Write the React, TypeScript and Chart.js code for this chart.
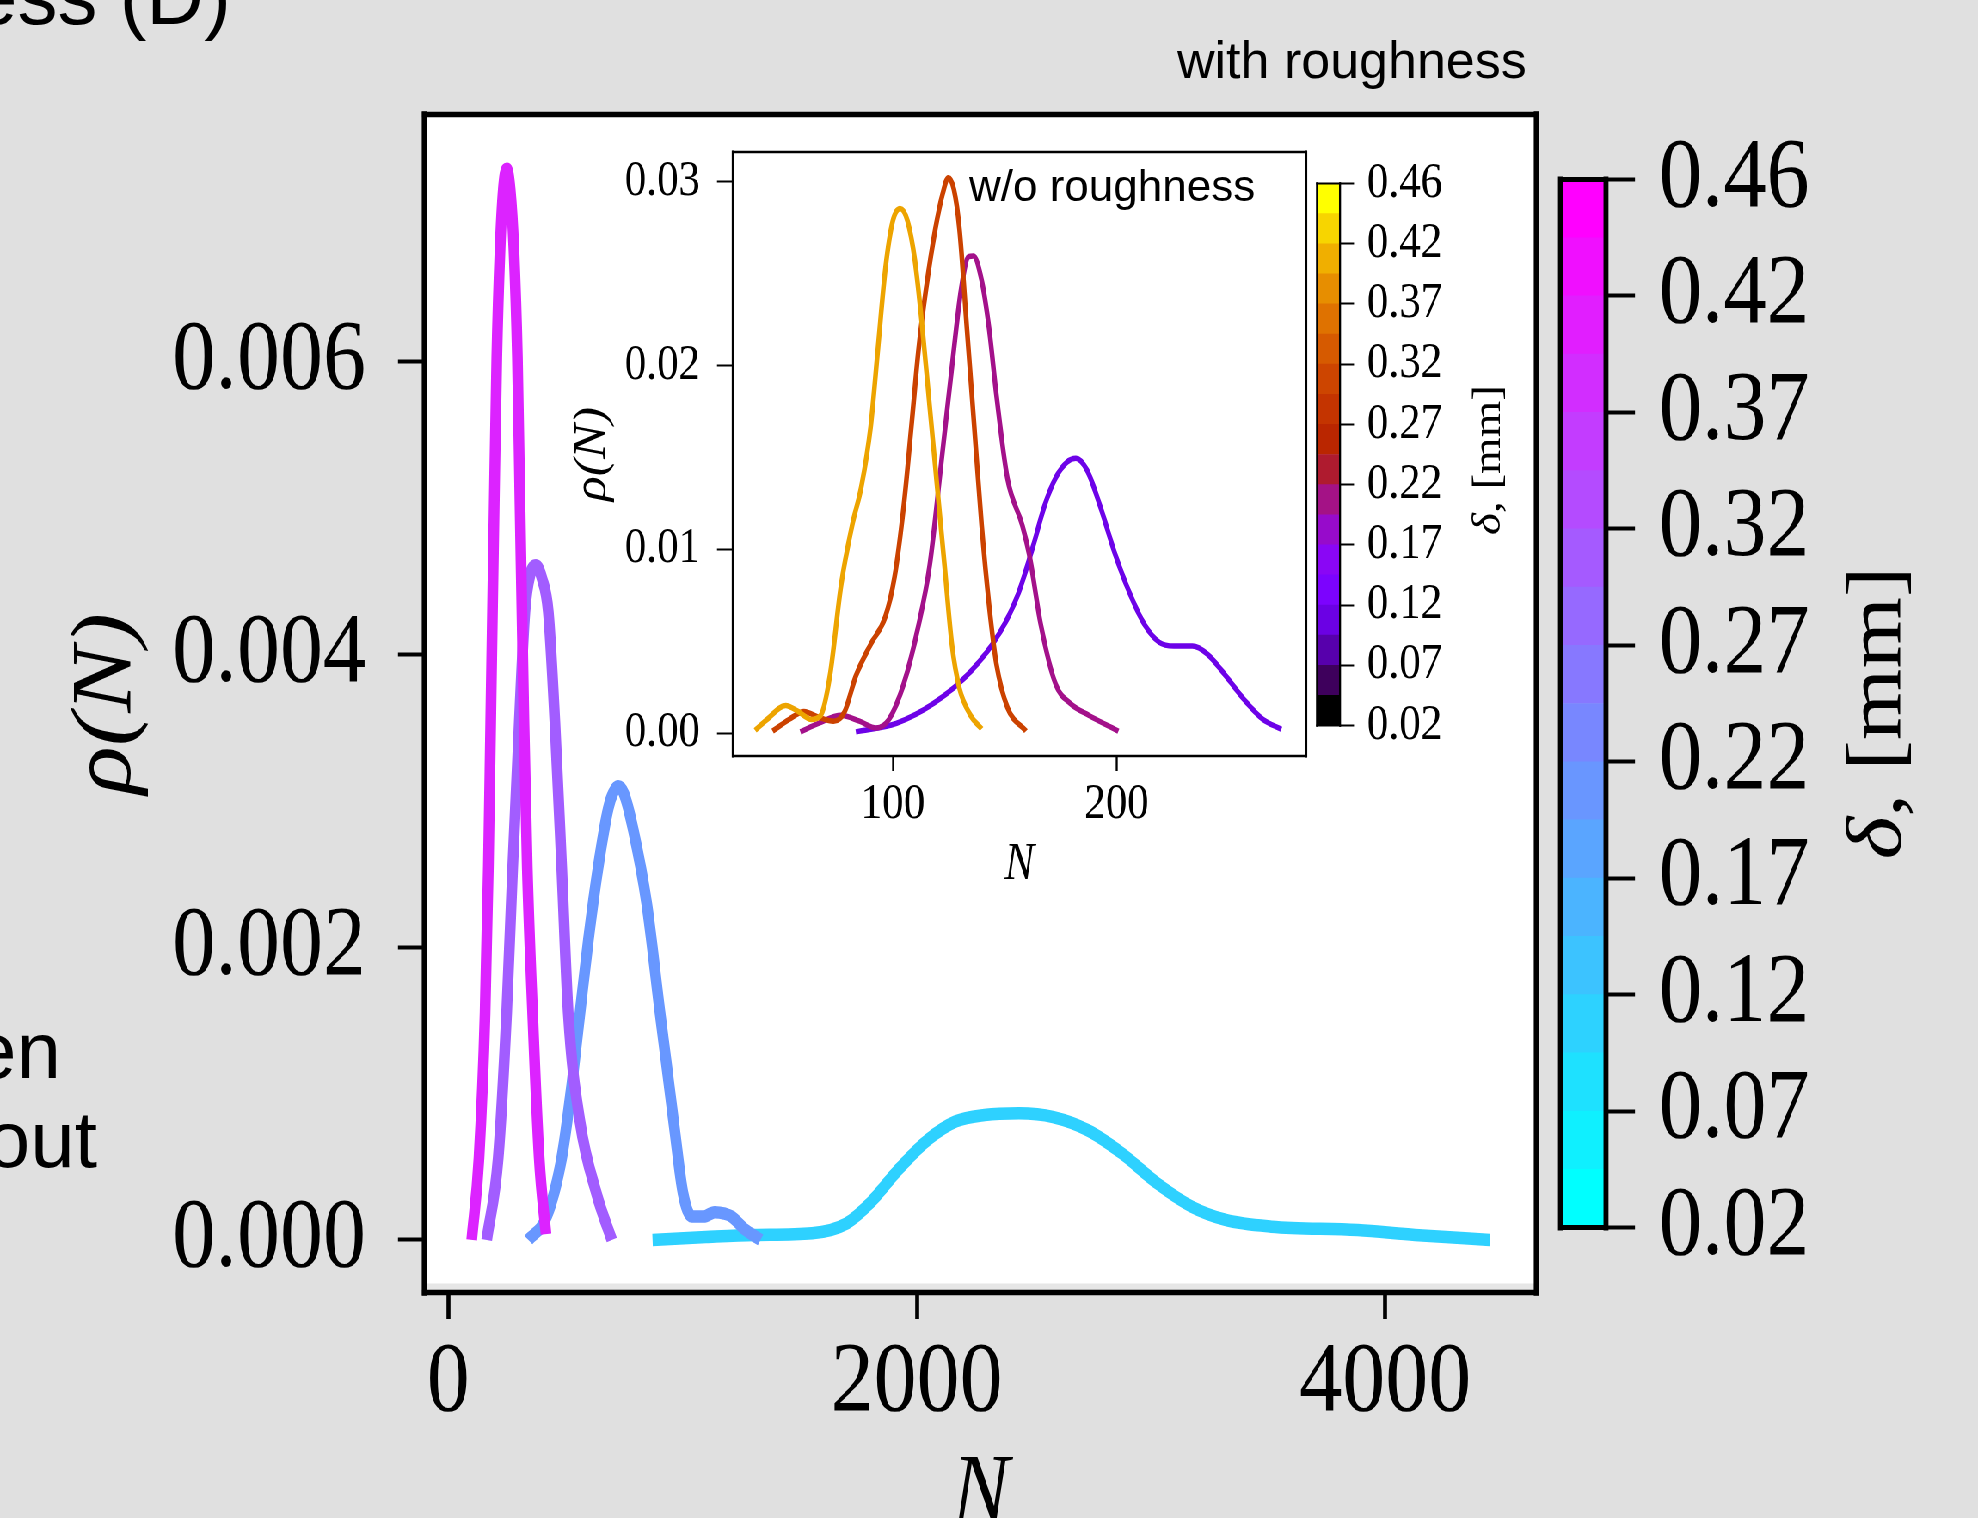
import React, { useEffect, useRef } from 'react';
import { Chart, registerables } from 'chart.js';

Chart.register(...registerables);

// ---------------- data : main panel (with roughness) ----------------
const MAIN_D01_N = [872, 1100, 1308, 1553, 1701, 1799, 1921, 2044, 2166, 2289, 2436, 2583, 2730, 2877, 3024, 3171, 3318, 3514, 3882, 4127, 4446];
const MAIN_D01_RHO = [0, 0.00002, 0.000034, 0.000046, 0.000114, 0.00025, 0.00048, 0.00068, 0.00081, 0.000854, 0.000866, 0.00084, 0.00075, 0.00059, 0.00039, 0.00023, 0.000137, 0.000091, 0.000068, 0.000034, 0];

const MAIN_D02_N = [342, 420, 484, 527, 562, 598, 640, 683, 705, 726, 750, 790, 847, 904, 930, 965, 1002, 1040, 1090, 1137, 1180, 1210, 1260, 1333];
const MAIN_D02_RHO = [0, 0.00016, 0.00056, 0.00106, 0.00155, 0.00205, 0.00255, 0.00295, 0.00306, 0.0031, 0.00305, 0.0028, 0.0023, 0.00155, 0.00122, 0.00077, 0.00032, 0.00016, 0.00016, 0.00019, 0.00018, 0.00016, 0.00008, 0];

const MAIN_D03_N = [164, 213, 249, 275, 303, 327, 350, 374, 400, 427, 455, 484, 512, 562, 634, 698];
const MAIN_D03_RHO = [0, 0.00056, 0.00155, 0.00255, 0.00354, 0.00429, 0.00455, 0.00461, 0.00452, 0.00429, 0.00354, 0.00255, 0.00155, 0.00081, 0.00031, 0];

const MAIN_D04_N = [100, 131, 157, 171, 181, 196, 207, 221, 235, 249, 264, 280, 295, 306, 323, 337, 360, 388, 417];
const MAIN_D04_RHO = [0, 0.00056, 0.00155, 0.00255, 0.00354, 0.00503, 0.00603, 0.00677, 0.00718, 0.00732, 0.00718, 0.00677, 0.00603, 0.00503, 0.00354, 0.00255, 0.00155, 0.00056, 0.00004];

const MAIN_X_TICKS = [0, 2000, 4000];
const MAIN_Y_TICKS = [0, 0.002, 0.004, 0.006];

// ---------------- data : inset (w/o roughness) ----------------
const INSET_D01_N = [83.5, 101.6, 118.2, 134.7, 147.9, 156.2, 162.8, 167.8, 172.7, 177.7, 181.8, 186.8, 192.6, 199.2, 205.8, 212.4, 219.0, 225.6, 233.9, 240.5, 248.8, 257.0, 265.3, 273.6];
const INSET_D01_RHO = [0.00006, 0.00053, 0.00161, 0.00333, 0.00548, 0.00763, 0.01022, 0.01237, 0.01387, 0.01473, 0.01495, 0.0143, 0.01237, 0.00979, 0.00763, 0.00592, 0.00494, 0.00473, 0.00473, 0.0043, 0.00311, 0.00182, 0.00075, 0.0002];

const INSET_D02_N = [58.7, 66.9, 76.9, 85.1, 92.6, 98.3, 104.9, 111.6, 116.5, 121.5, 126.4, 130.6, 133.9, 136.0, 139.7, 143.0, 146.3, 151.2, 157.9, 161.2, 166.1, 172.7, 179.3, 187.6, 200.8];
const INSET_D02_RHO = [0.00006, 0.00053, 0.00096, 0.00064, 0.00027, 0.00074, 0.00268, 0.00592, 0.00914, 0.01452, 0.0199, 0.02421, 0.02593, 0.02597, 0.02464, 0.02205, 0.0184, 0.01387, 0.01129, 0.00957, 0.00592, 0.00268, 0.00161, 0.00096, 0.0001];

const INSET_D03_N = [46.3, 53.7, 60.3, 66.9, 73.5, 78.5, 83.5, 90.1, 96.7, 100.8, 104.9, 108.3, 111.6, 114.9, 119.0, 122.3, 124.8, 127.3, 129.8, 133.1, 136.4, 139.7, 143.0, 146.3, 151.2, 159.5];
const INSET_D03_RHO = [0.0001, 0.00074, 0.00117, 0.00085, 0.00064, 0.00117, 0.00311, 0.00483, 0.00634, 0.0085, 0.01237, 0.01667, 0.02098, 0.02421, 0.02743, 0.02937, 0.03023, 0.02959, 0.02743, 0.02205, 0.01667, 0.01129, 0.00699, 0.00376, 0.0014, 0.0001];

const INSET_D04_N = [38.5, 43.8, 52.1, 57.8, 63.6, 67.8, 71.9, 76.9, 81.8, 86.0, 90.1, 93.4, 96.7, 100.0, 103.3, 106.6, 109.9, 113.2, 116.5, 119.8, 123.1, 126.4, 129.7, 134.7, 139.7];
const INSET_D04_RHO = [0.00014, 0.00074, 0.0015, 0.00117, 0.00074, 0.00096, 0.00311, 0.00806, 0.01129, 0.01344, 0.01667, 0.02098, 0.02528, 0.02787, 0.02855, 0.02787, 0.02571, 0.02205, 0.01775, 0.01344, 0.00914, 0.00483, 0.00247, 0.00097, 0.00022];

const INSET_X_TICKS = [100, 200];
const INSET_Y_TICKS = [0, 0.01, 0.02, 0.03];

// colour bar tick labels (bottom to top)
const CBAR_LABELS = ['0.02', '0.07', '0.12', '0.17', '0.22', '0.27', '0.32', '0.37', '0.42', '0.46'];
const CBAR_BANDS = 18;

// line colours (cool map for main, gnuplot map for inset), delta = 0.1, 0.2, 0.3, 0.4
const MAIN_COLORS = ['#2ed1ff', '#6897ff', '#a25dff', '#dc23ff'];
const INSET_COLORS = ['#6d02e8', '#a3118a', '#cb4200', '#eda400'];

// ---------------- layout ----------------
const SX = 0.86; // the figure is horizontally compressed
const PAGE_W = 1978;
const PAGE_H = 1518;
const CW = Math.round(PAGE_W / SX);
const cx = (x: number) => x / SX;
const SERIF = "'Liberation Serif', 'Times New Roman', serif";
const SANS = "'Liberation Sans', Arial, sans-serif";

function coolColor(t: number) {
  return `rgb(${Math.round(255 * t)},${Math.round(255 * (1 - t))},255)`;
}
function gnuplotColor(t: number) {
  const r = Math.sqrt(t);
  const g = t * t * t;
  const b = Math.min(1, Math.max(0, Math.sin(2 * Math.PI * t)));
  return `rgb(${Math.round(255 * r)},${Math.round(255 * g)},${Math.round(255 * b)})`;
}

function framePlugin(area: { lw: number; strip?: boolean }) {
  return {
    id: 'frameBox',
    beforeDraw(chart: any) {
      const { ctx, chartArea: a } = chart;
      ctx.save();
      ctx.fillStyle = '#ffffff';
      ctx.fillRect(a.left, a.top, a.right - a.left, a.bottom - a.top);
      if (area.strip) {
        ctx.fillStyle = '#e6e6e6';
        ctx.fillRect(a.left, a.bottom - 9, a.right - a.left, 7);
      }
      ctx.restore();
    },
    afterDraw(chart: any) {
      const { ctx, chartArea: a } = chart;
      ctx.save();
      ctx.strokeStyle = '#000';
      ctx.lineCap = 'square';
      ctx.lineWidth = area.lw;
      ctx.beginPath();
      ctx.moveTo(a.left, a.top);
      ctx.lineTo(a.right, a.top);
      ctx.moveTo(a.left, a.bottom);
      ctx.lineTo(a.right, a.bottom);
      ctx.stroke();
      ctx.lineWidth = area.lw / SX;
      ctx.beginPath();
      ctx.moveTo(a.left, a.top);
      ctx.lineTo(a.left, a.bottom);
      ctx.moveTo(a.right, a.top);
      ctx.lineTo(a.right, a.bottom);
      ctx.stroke();
      ctx.restore();
    },
  };
}

function series(ns: number[], rhos: number[], color: string, width: number) {
  return {
    data: ns.map((n, i) => ({ x: n, y: rhos[i] })),
    borderColor: color,
    backgroundColor: color,
    borderWidth: width,
    pointRadius: 0,
    fill: false,
    cubicInterpolationMode: 'monotone',
  };
}

interface PanelSpec {
  left: number; right: number; top: number; bottom: number; // chart area, page px
  axisLeft: number; axisBottom: number;
  xMin: number; xMax: number; yMin: number; yMax: number;
  xTicks: number[]; yTicks: number[]; yDigits: number;
  font: number; titleFont: number;
  yTickLen: number; yPad: number; xTickLen: number; xPad: number; tickW: number;
  yTitleCenter: number; xTitleCenter: number;
  frame: number; strip?: boolean;
}

function panelConfig(p: PanelSpec, datasets: any[]) {
  const tickFont = { family: SERIF, size: p.font, lineHeight: 1 };
  const titleFont = { family: SERIF, size: p.titleFont, style: 'italic', lineHeight: 1 };
  const yAxisW = cx(p.left) - cx(p.axisLeft);
  const xAxisH = p.axisBottom - p.bottom;
  return {
    type: 'line',
    data: { datasets },
    options: {
      animation: false,
      responsive: false,
      events: [],
      layout: {
        padding: { left: cx(p.axisLeft), top: p.top, right: CW - cx(p.right), bottom: PAGE_H - p.axisBottom },
      },
      plugins: { legend: { display: false }, tooltip: { enabled: false } },
      scales: {
        x: {
          type: 'linear',
          min: p.xMin,
          max: p.xMax,
          afterBuildTicks: (s: any) => { s.ticks = p.xTicks.map((v) => ({ value: v })); },
          afterFit: (s: any) => { s.height = xAxisH; s.paddingLeft = 0; s.paddingRight = 0; },
          ticks: { callback: (v: any) => String(v), font: tickFont, color: '#000', padding: p.xPad, maxRotation: 0, minRotation: 0, autoSkip: false },
          grid: { display: true, drawOnChartArea: false, drawTicks: true, tickLength: p.xTickLen, tickColor: '#000', tickWidth: p.tickW / SX },
          border: { display: false },
          title: {
            display: true, text: 'N', color: '#000', font: titleFont,
            padding: { top: 0, bottom: p.axisBottom - p.xTitleCenter - p.titleFont / 2 },
          },
        },
        y: {
          type: 'linear',
          min: p.yMin,
          max: p.yMax,
          afterBuildTicks: (s: any) => { s.ticks = p.yTicks.map((v) => ({ value: v })); },
          afterFit: (s: any) => { s.width = yAxisW; s.paddingTop = 0; s.paddingBottom = 0; },
          ticks: { callback: (v: any) => Number(v).toFixed(p.yDigits), font: tickFont, color: '#000', padding: p.yPad / SX, autoSkip: false },
          grid: { display: true, drawOnChartArea: false, drawTicks: true, tickLength: p.yTickLen / SX, tickColor: '#000', tickWidth: p.tickW },
          border: { display: false },
          title: {
            display: true, text: 'ρ(N)', color: '#000', font: titleFont,
            padding: { top: cx(p.yTitleCenter) - cx(p.axisLeft) - p.titleFont / 2, bottom: 0 },
          },
        },
      },
    },
    plugins: [framePlugin({ lw: p.frame, strip: p.strip })],
  };
}

interface CbarSpec {
  left: number; right: number; top: number; bottom: number;
  colors: string[]; font: number; tickLen: number; pad: number; tickW: number; outline: number;
  titleX: number; titleY: number; titleFont: number;
}

const CB_AXIS_W = 300;

function colorbarPlugin(cb: CbarSpec) {
  return {
    id: 'cbarDecor',
    afterDraw(chart: any) {
      const { ctx, chartArea: a } = chart;
      ctx.save();
      ctx.strokeStyle = '#000';
      ctx.lineCap = 'square';
      ctx.lineWidth = cb.outline;
      ctx.beginPath();
      ctx.moveTo(a.left, a.top); ctx.lineTo(a.right, a.top);
      ctx.moveTo(a.left, a.bottom); ctx.lineTo(a.right, a.bottom);
      ctx.stroke();
      ctx.lineWidth = cb.outline / SX;
      ctx.beginPath();
      ctx.moveTo(a.left, a.top); ctx.lineTo(a.left, a.bottom);
      ctx.moveTo(a.right, a.top); ctx.lineTo(a.right, a.bottom);
      ctx.stroke();
      // rotated label  "δ, [mm]"
      ctx.translate(cx(cb.titleX), cb.titleY);
      ctx.rotate(-Math.PI / 2);
      ctx.fillStyle = '#000';
      ctx.textBaseline = 'middle';
      ctx.textAlign = 'left';
      const f1 = `italic ${cb.titleFont}px ${SERIF}`;
      const f2 = `${cb.titleFont}px ${SERIF}`;
      ctx.font = f1;
      const w1 = ctx.measureText('δ').width;
      ctx.font = f2;
      const w2 = ctx.measureText(', [mm]').width;
      const x0 = -(w1 + w2) / 2;
      ctx.font = f1;
      ctx.fillText('δ', x0, 0);
      ctx.font = f2;
      ctx.fillText(', [mm]', x0 + w1, 0);
      ctx.restore();
    },
  };
}

function colorbarConfig(cb: CbarSpec) {
  const step = (CBAR_LABELS.length - 1) / CBAR_BANDS;
  return {
    type: 'bar',
    data: {
      labels: [''],
      datasets: cb.colors.map((c, i) => ({
        data: [[i * step, (i + 1) * step]],
        backgroundColor: c,
        borderWidth: 0,
        barPercentage: 1,
        categoryPercentage: 1,
        grouped: false,
      })),
    },
    options: {
      animation: false,
      responsive: false,
      events: [],
      layout: { padding: { left: cx(cb.left), right: CW - cx(cb.right) - CB_AXIS_W, top: cb.top, bottom: PAGE_H - cb.bottom } },
      plugins: { legend: { display: false }, tooltip: { enabled: false } },
      scales: {
        x: { display: false },
        y: {
          position: 'right',
          min: 0,
          max: CBAR_LABELS.length - 1,
          afterBuildTicks: (s: any) => { s.ticks = CBAR_LABELS.map((_, i) => ({ value: i })); },
          afterFit: (s: any) => { s.width = CB_AXIS_W; s.paddingTop = 0; s.paddingBottom = 0; },
          ticks: { callback: (_v: any, i: number) => CBAR_LABELS[i], font: { family: SERIF, size: cb.font, lineHeight: 1 }, color: '#000', padding: cb.pad / SX, autoSkip: false },
          grid: { display: true, drawOnChartArea: false, drawTicks: true, tickLength: cb.tickLen / SX, tickColor: '#000', tickWidth: cb.tickW },
          border: { display: false },
        },
      },
    },
    plugins: [colorbarPlugin(cb)],
  };
}

const MAIN_PANEL: PanelSpec = {
  left: 424.5, right: 1536.5, top: 114.5, bottom: 1292.5,
  axisLeft: 0, axisBottom: PAGE_H,
  xMin: -101.6, xMax: 4645.5, yMin: -0.000359, yMax: 0.0076905,
  xTicks: MAIN_X_TICKS, yTicks: MAIN_Y_TICKS, yDigits: 3,
  font: 100, titleFont: 100,
  yTickLen: 26.5, yPad: 32, xTickLen: 26.5, xPad: 15, tickW: 4,
  yTitleCenter: 107, xTitleCenter: 1496,
  frame: 5.5, strip: true,
};

const INSET_PANEL: PanelSpec = {
  left: 733, right: 1306, top: 152, bottom: 756,
  axisLeft: 540, axisBottom: 900,
  xMin: 28.6, xMax: 284.63, yMin: -0.001252, yMax: 0.031627,
  xTicks: INSET_X_TICKS, yTicks: INSET_Y_TICKS, yDigits: 2,
  font: 50, titleFont: 52,
  yTickLen: 16, yPad: 17, xTickLen: 15, xPad: 9, tickW: 2,
  yTitleCenter: 593, xTitleCenter: 865,
  frame: 2.5,
};

const CB_MAIN: CbarSpec = {
  left: 1560.5, right: 1606, top: 179.5, bottom: 1227.5,
  colors: Array.from({ length: CBAR_BANDS }, (_, i) => coolColor(i / (CBAR_BANDS - 1))),
  font: 100, tickLen: 29, pad: 24, tickW: 4, outline: 5,
  titleX: 1880, titleY: 713, titleFont: 92,
};

const CB_INSET: CbarSpec = {
  left: 1317, right: 1340, top: 183.5, bottom: 725.5,
  colors: Array.from({ length: CBAR_BANDS }, (_, i) => gnuplotColor(i / (CBAR_BANDS - 1))),
  font: 50, tickLen: 14, pad: 13, tickW: 2, outline: 2,
  titleX: 1489, titleY: 460, titleFont: 47,
};

function Txt(props: { x: number; align?: 'left' | 'right'; baseline: number; size: number; children: any }) {
  const { x, align, baseline, size, children } = props;
  const st: any = {
    position: 'absolute',
    top: baseline - 0.8465 * size,
    fontFamily: SANS,
    fontSize: size,
    lineHeight: 1,
    whiteSpace: 'nowrap',
    color: '#000',
  };
  if (align === 'right') st.right = PAGE_W - x; else st.left = x;
  return <div style={st}>{children}</div>;
}

export default function App() {
  const mainRef = useRef<HTMLCanvasElement>(null);
  const cbMainRef = useRef<HTMLCanvasElement>(null);
  const insetRef = useRef<HTMLCanvasElement>(null);
  const cbInsetRef = useRef<HTMLCanvasElement>(null);

  useEffect(() => {
    const mainSets = [
      series(MAIN_D04_N, MAIN_D04_RHO, MAIN_COLORS[3], 12.5),
      series(MAIN_D03_N, MAIN_D03_RHO, MAIN_COLORS[2], 12.5),
      series(MAIN_D02_N, MAIN_D02_RHO, MAIN_COLORS[1], 12.5),
      series(MAIN_D01_N, MAIN_D01_RHO, MAIN_COLORS[0], 12.5),
    ];
    const insetSets = [
      series(INSET_D04_N, INSET_D04_RHO, INSET_COLORS[3], 5.5),
      series(INSET_D03_N, INSET_D03_RHO, INSET_COLORS[2], 5.5),
      series(INSET_D02_N, INSET_D02_RHO, INSET_COLORS[1], 5.5),
      series(INSET_D01_N, INSET_D01_RHO, INSET_COLORS[0], 5.5),
    ];
    const charts = [
      new Chart(mainRef.current as any, panelConfig(MAIN_PANEL, mainSets) as any),
      new Chart(cbMainRef.current as any, colorbarConfig(CB_MAIN) as any),
      new Chart(insetRef.current as any, panelConfig(INSET_PANEL, insetSets) as any),
      new Chart(cbInsetRef.current as any, colorbarConfig(CB_INSET) as any),
    ];
    return () => charts.forEach((c) => c.destroy());
  }, []);

  const cs: any = { position: 'absolute', left: 0, top: 0 };
  return (
    <div style={{ position: 'fixed', left: 0, top: 0, width: PAGE_W, height: PAGE_H, background: '#e0e0e0', overflow: 'hidden' }}>
      <Txt x={-27} baseline={25} size={80}>ess (D)</Txt>
      <Txt x={61} align="right" baseline={1079} size={80}>en</Txt>
      <Txt x={97} align="right" baseline={1168} size={80}>out</Txt>
      <div style={{ position: 'absolute', left: 0, top: 0, width: CW, height: PAGE_H, transform: `scaleX(${SX})`, transformOrigin: '0 0' }}>
        <canvas ref={mainRef} width={CW} height={PAGE_H} style={cs} />
        <canvas ref={cbMainRef} width={CW} height={PAGE_H} style={cs} />
        <canvas ref={insetRef} width={CW} height={PAGE_H} style={cs} />
        <canvas ref={cbInsetRef} width={CW} height={PAGE_H} style={cs} />
      </div>
      <Txt x={1177} baseline={78} size={52}>with roughness</Txt>
      <Txt x={969} baseline={201} size={44}>w/o roughness</Txt>
    </div>
  );
}
